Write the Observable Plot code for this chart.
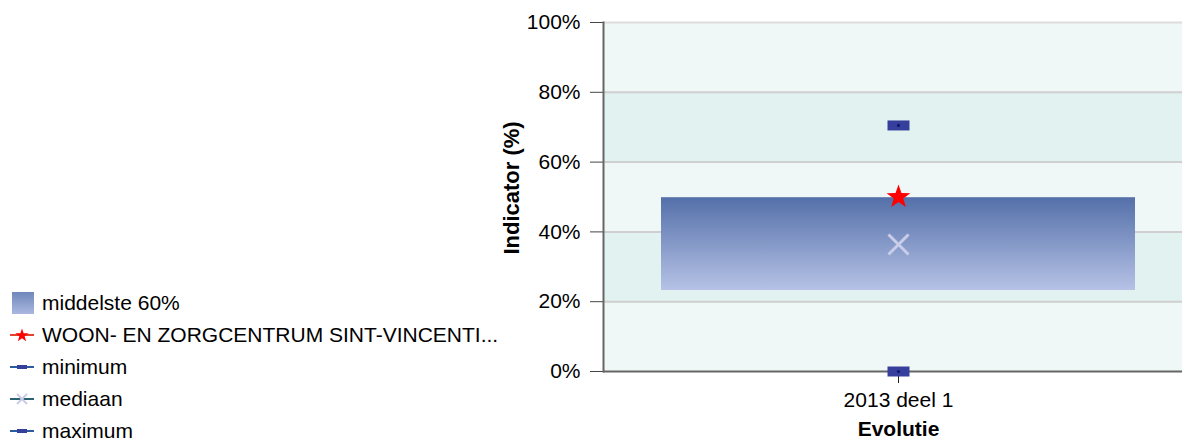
<!DOCTYPE html>
<html><head><meta charset="utf-8">
<script src="https://cdn.jsdelivr.net/npm/d3@7"></script>
<script src="https://cdn.jsdelivr.net/npm/@observablehq/plot@0.6"></script>
<style>
body{margin:0;font-family:"Liberation Sans",Arial,sans-serif;background:#fff;}
#wrap{position:relative;width:1182px;height:439px;overflow:hidden;}
#chart{position:absolute;left:0;top:0;}
#legend{position:absolute;left:10px;top:287px;font-size:21px;color:#000;}
.row{height:32px;display:flex;align-items:center;white-space:nowrap;}
.row svg{margin-right:8px;flex:none;}
</style></head><body>
<div id="wrap"><div id="chart"></div><div id="legend"></div></div>
<script>
// ---- data ----
const periods = ["2013 deel 1"];
const p20 = [23.2];
const p80 = [49.8];
const minimum = [0];
const mediaan = [36.4];
const maximum = [70.5];
const instelling = [50];
const yTicks = [0, 20, 40, 60, 80, 100];
const legendLabels = ["middelste 60%", "WOON- EN ZORGCENTRUM SINT-VINCENTI...", "minimum", "mediaan", "maximum"];
const yLabel = "Indicator (%)";
const xLabel = "Evolutie";

const rows = periods.map((p, i) => ({period: p, p20: p20[i], p80: p80[i], min: minimum[i], med: mediaan[i], max: maximum[i], inst: instelling[i]}));
const bandRows = yTicks.slice(0, -1).map((t, i) => ({y1: t, y2: yTicks[i + 1], i}));

const rectSym = {draw(ctx) { ctx.rect(-11, -5, 22, 10); }};
const starSym = {draw(ctx) {
  for (let k = 0; k < 10; k++) {
    const r = k % 2 ? 5 : 12.5, a = -Math.PI / 2 + k * Math.PI / 5;
    const x = r * Math.cos(a), y = r * Math.sin(a);
    k ? ctx.lineTo(x, y) : ctx.moveTo(x, y);
  }
  ctx.closePath();
}};
const timesSym = {draw(ctx) { ctx.moveTo(-10, -10); ctx.lineTo(10, 10); ctx.moveTo(10, -10); ctx.lineTo(-10, 10); }};

const plot = Plot.plot({
  width: 1182, height: 439,
  marginLeft: 603, marginRight: 0, marginTop: 22, marginBottom: 68,
  style: {fontFamily: '"Liberation Sans", Arial, sans-serif', fontSize: "21px", background: "transparent", overflow: "visible"},
  x: {domain: periods, range: [603, 1193], padding: 0.109, label: null},
  y: {domain: [0, 100], label: null},
  marks: [
    Plot.rectY(bandRows, {y1: "y1", y2: "y2", fill: d => d.i % 2 ? "#e2f2f0" : "#eff8f6"}),
    Plot.ruleY(yTicks.slice(1), {stroke: d => d === 100 ? "#dddddd" : "#cfcfcf", strokeWidth: 2}),
    Plot.barY(rows, {x: "period", y1: "p20", y2: "p80", fill: "url(#boxgrad)"}),
    Plot.axisY({ticks: yTicks, tickFormat: d => d + "%", tickSize: 13, tickPadding: 10, stroke: "#444", fontSize: 21, label: null}),
    Plot.axisX({tickSize: 12, tickPadding: 9, stroke: "#222", fontSize: 21, label: null}),
    Plot.ruleY([0], {stroke: "#666", strokeWidth: 2}),
    Plot.frame({anchor: "left", stroke: "#666", strokeWidth: 2}),
    Plot.dot(rows, {x: "period", y: "max", symbol: rectSym, r: 5, fill: "#363f9c", stroke: "none"}),
    Plot.dot(rows, {x: "period", y: "max", r: 1.6, fill: "#0b1a6e", stroke: "none"}),
    Plot.dot(rows, {x: "period", y: "min", symbol: rectSym, r: 5, fill: "#363f9c", stroke: "none"}),
    Plot.dot(rows, {x: "period", y: "min", r: 1.6, fill: "#0b1a6e", stroke: "none"}),
    Plot.dot(rows, {x: "period", y: "med", symbol: timesSym, r: 5, fill: "none", stroke: "#c9cde9", strokeWidth: 3}),
    Plot.dot(rows, {x: "period", y: "inst", symbol: starSym, r: 5, fill: "#ff0000", stroke: "none"}),
    Plot.text([yLabel], {frameAnchor: "left", textAnchor: "middle", dx: -92, dy: -9, rotate: -90, fontWeight: "bold", fontSize: 22}),
    Plot.text([xLabel], {x: () => periods[0], frameAnchor: "bottom", lineAnchor: "top", dy: 50, fontWeight: "bold", fontSize: 21})
  ]
});

const defs = d3.select(plot).insert("defs", ":first-child");
const g = defs.append("linearGradient").attr("id", "boxgrad").attr("x1", 0).attr("y1", 0).attr("x2", 0).attr("y2", 1);
g.append("stop").attr("offset", "0%").attr("stop-color", "#5470a9");
g.append("stop").attr("offset", "100%").attr("stop-color", "#b6c2e6");
document.getElementById("chart").appendChild(plot);

// ---- legend ----
const sw = [
  `<svg width="24" height="24"><defs><linearGradient id="lg" x1="0" y1="0" x2="0" y2="1"><stop offset="0" stop-color="#6f87bb"/><stop offset="1" stop-color="#aab8df"/></linearGradient></defs><rect x="2" y="1" width="22" height="22" fill="url(#lg)"/></svg>`,
  `<svg width="24" height="24"><line x1="0" y1="12" x2="24" y2="12" stroke="#e4422c" stroke-width="2"/><path d="${d3.range(10).map(k=>{const r=k%2?2.8:7,a=-Math.PI/2+k*Math.PI/5;return (k?'L':'M')+(12+r*Math.cos(a)).toFixed(2)+','+(12.5+r*Math.sin(a)).toFixed(2);}).join('')}Z" fill="#ff0000"/></svg>`,
  `<svg width="24" height="24"><line x1="0" y1="12" x2="24" y2="12" stroke="#2a5c9e" stroke-width="2"/><rect x="7" y="10" width="10" height="4" fill="#363f9c"/></svg>`,
  `<svg width="24" height="24"><line x1="0" y1="12" x2="24" y2="12" stroke="#2b6272" stroke-width="2"/><path d="M7,7L17,17M17,7L7,17" stroke="#c9cde9" stroke-width="2"/></svg>`,
  `<svg width="24" height="24"><line x1="0" y1="12" x2="24" y2="12" stroke="#2a5c9e" stroke-width="2"/><rect x="7" y="10" width="10" height="4" fill="#363f9c"/></svg>`
];
document.getElementById("legend").innerHTML = legendLabels.map((l, i) => `<div class="row">${sw[i]}<span>${l}</span></div>`).join("");
</script>
</body></html>
